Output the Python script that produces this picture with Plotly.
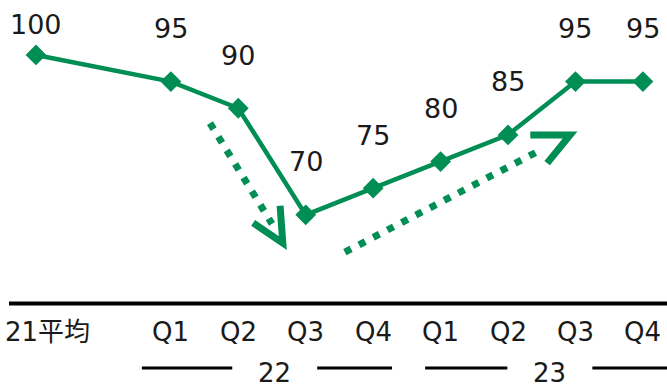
import plotly.graph_objects as go

# Quarterly index, 21 average = 100
categories = ["21平均", "Q1", "Q2", "Q3", "Q4", "Q1", "Q2", "Q3", "Q4"]
values = [100, 95, 90, 70, 75, 80, 85, 95, 95]
years = ["22", "23"]

GREEN = "#008E55"
TEXT = "#1a1a1a"
FONT = "DejaVu Sans, Noto Sans CJK JP, sans-serif"

# the average column stands apart from the quarters, so leave one empty slot after it
xpos = [0] + list(range(2, 2 + len(categories) - 1))

W, H = 667, 387
PLOT_BOTTOM = 303           # pixel row of the baseline
ML = 9
x_range = [-0.40, 9.357]
y_range = [53.47, 110.3]


def py(pix):
    """paper y for a pixel row measured from the top of the page"""
    return (PLOT_BOTTOM - pix) / PLOT_BOTTOM


fig = go.Figure()
fig.add_trace(go.Scatter(
    x=xpos, y=values, mode="lines+markers",
    line=dict(color=GREEN, width=4.5),
    marker=dict(symbol="diamond", size=16, color=GREEN),
    cliponaxis=False, hoverinfo="skip", showlegend=False,
))

annotations = []
# value labels above each point (the first one sits lower to stay inside the frame)
for i, (x, v) in enumerate(zip(xpos, values)):
    annotations.append(dict(
        x=x, y=v, xref="x", yref="y", text=str(v), showarrow=False,
        yshift=30 if i == 0 else 53, font=dict(size=27, color=TEXT, family=FONT),
    ))

# category labels under the baseline; the first one is pinned to the left edge
for i, (x, c) in enumerate(zip(xpos, categories)):
    ann = dict(
        x=x, y=0, xref="x", yref="paper", text=c, showarrow=False,
        yshift=-29, yanchor="middle", font=dict(size=26, color=TEXT, family=FONT),
    )
    if i == 0:
        ann.update(xanchor="left", xshift=-33)
    annotations.append(ann)

# year labels with the rules on either side
year_centers = [3.54, 7.62]
year_spans = [(1.57, 5.28), (5.77, 9.40)]
gap = 0.63
shapes = []
for yr, cx, (a, b) in zip(years, year_centers, year_spans):
    annotations.append(dict(
        x=cx, y=0, xref="x", yref="paper", text=yr, showarrow=False,
        yshift=-70, yanchor="middle", font=dict(size=26, color=TEXT, family=FONT),
    ))
    for x0, x1 in [(a, cx - gap), (cx + gap, b)]:
        shapes.append(dict(type="line", xref="x", yref="paper",
                           x0=x0, x1=x1, y0=py(368), y1=py(368),
                           line=dict(color="black", width=3)))

# baseline
shapes.append(dict(type="line", xref="paper", yref="paper", x0=0, x1=1,
                   y0=py(303.5), y1=py(303.5), line=dict(color="black", width=4)))

# dotted trend arrows: down into Q3, then recovery
arrows = [
    dict(start=(2.58, 87.2), end=(3.50, 68.3),
         head=[(3.22, 68.5), (3.66, 64.7), (3.62, 71.7)]),
    dict(start=(4.58, 63.0), end=(7.52, 82.4),
         head=[(7.33, 85.0), (7.92, 85.0), (7.58, 79.7)]),
]
for ar in arrows:
    shapes.append(dict(type="line", xref="x", yref="y",
                       x0=ar["start"][0], y0=ar["start"][1],
                       x1=ar["end"][0], y1=ar["end"][1],
                       line=dict(color=GREEN, width=7, dash="7px,9px")))
    p = ar["head"]
    shapes.append(dict(type="path", xref="x", yref="y",
                       path=f"M {p[0][0]},{p[0][1]} L {p[1][0]},{p[1][1]} L {p[2][0]},{p[2][1]}",
                       line=dict(color=GREEN, width=7)))

fig.update_layout(
    width=W, height=H,
    margin=dict(l=ML, r=0, t=0, b=H - PLOT_BOTTOM),
    paper_bgcolor="white", plot_bgcolor="white",
    xaxis=dict(range=x_range, visible=False, fixedrange=True),
    yaxis=dict(range=y_range, visible=False, fixedrange=True),
    annotations=annotations, shapes=shapes,
)

fig.write_html("out.html", config={"displayModeBar": False})
